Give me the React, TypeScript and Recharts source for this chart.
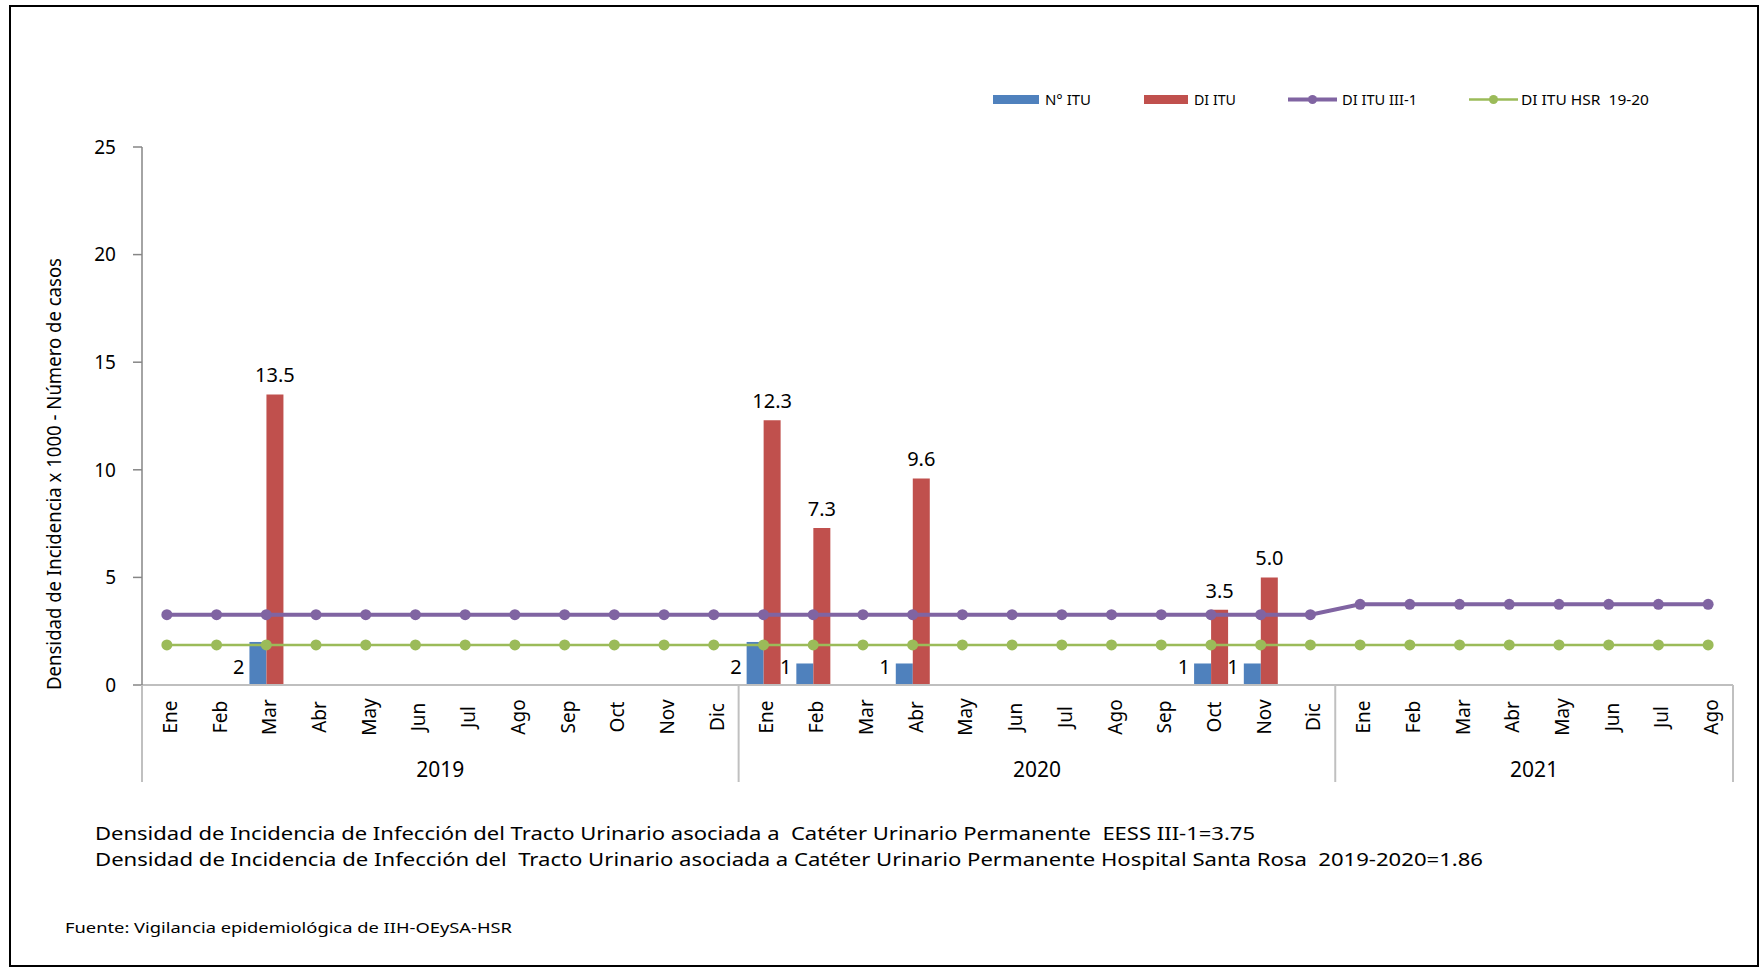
import React from 'react';
import { ComposedChart, Bar, Line, XAxis, YAxis, LabelList } from 'recharts';

const months = ['Ene', 'Feb', 'Mar', 'Abr', 'May', 'Jun', 'Jul', 'Ago', 'Sep', 'Oct', 'Nov', 'Dic'];
const years = ['2019', '2020', '2021'];
const monthsPerYear = [12, 12, 8];

// N° ITU (casos)
const nItu = [
  null, null, 2, null, null, null, null, null, null, null, null, null,
  2, 1, null, 1, null, null, null, null, null, 1, 1, null,
  null, null, null, null, null, null, null, null,
];
// DI ITU (densidad x 1000)
const diItu = [
  null, null, 13.5, null, null, null, null, null, null, null, null, null,
  12.3, 7.3, null, 9.6, null, null, null, null, null, 3.5, 5.0, null,
  null, null, null, null, null, null, null, null,
];
// DI ITU III-1
const diItuIII = [
  3.27, 3.27, 3.27, 3.27, 3.27, 3.27, 3.27, 3.27, 3.27, 3.27, 3.27, 3.27,
  3.27, 3.27, 3.27, 3.27, 3.27, 3.27, 3.27, 3.27, 3.27, 3.27, 3.27, 3.27,
  3.75, 3.75, 3.75, 3.75, 3.75, 3.75, 3.75, 3.75,
];
// DI ITU HSR 19-20
const diItuHsr = [
  1.86, 1.86, 1.86, 1.86, 1.86, 1.86, 1.86, 1.86, 1.86, 1.86, 1.86, 1.86,
  1.86, 1.86, 1.86, 1.86, 1.86, 1.86, 1.86, 1.86, 1.86, 1.86, 1.86, 1.86,
  1.86, 1.86, 1.86, 1.86, 1.86, 1.86, 1.86, 1.86,
];
const yTicks = [0, 5, 10, 15, 20, 25];

const seriesNames = ['N° ITU', 'DI ITU', 'DI ITU III-1', 'DI ITU HSR  19-20'];
const colors = { blue: '#4F81BD', red: '#C0504D', purple: '#8064A2', green: '#9BBB59' };

const yTitle = 'Densidad de Incidencia x 1000 - Número de casos';
const notes = [
  'Densidad de Incidencia de Infección del Tracto Urinario asociada a  Catéter Urinario Permanente  EESS III-1=3.75',
  'Densidad de Incidencia de Infección del  Tracto Urinario asociada a Catéter Urinario Permanente Hospital Santa Rosa  2019-2020=1.86',
];
const source = 'Fuente: Vigilancia epidemiológica de IIH-OEySA-HSR';

const FONT = '"Noto Sans", "Open Sans", sans-serif';

// layout
const PLOT_LEFT = 142;
const PLOT_RIGHT = 1733;
const PLOT_TOP = 147;
const PLOT_BOTTOM = 685;
const AXIS_BOTTOM = 782;
const BAND = (PLOT_RIGHT - PLOT_LEFT) / 32;

const rows: any[] = [];
years.forEach((year, g) => {
  for (let m = 0; m < monthsPerYear[g]; m++) {
    const i = rows.length;
    rows.push({
      key: `${months[m]}-${year}`,
      month: months[m],
      year,
      group: g,
      m,
      nItu: nItu[i],
      diItu: diItu[i],
      diItuIII: diItuIII[i],
      diItuHsr: diItuHsr[i],
    });
  }
});

const MonthTick = (props: any) => {
  const { x, payload } = props;
  const i = payload?.index ?? props.index;
  const row = rows[i];
  if (!row) return null;
  const len = monthsPerYear[row.group];
  const isFirst = row.m === 0;
  const isMid = row.m === len / 2 - 1;
  return (
    <g>
      <text
        transform={`translate(${x + 10}, 717) rotate(-90)`}
        textAnchor="middle"
        fontSize={19}
        fontFamily={FONT}
        fill="#000"
      >
        {row.month}
      </text>
      {isFirst && (
        <line x1={x - BAND / 2} x2={x - BAND / 2} y1={PLOT_BOTTOM} y2={AXIS_BOTTOM} stroke="#c0c0c0" strokeWidth={2} />
      )}
      {i === rows.length - 1 && (
        <line x1={x + BAND / 2} x2={x + BAND / 2} y1={PLOT_BOTTOM} y2={AXIS_BOTTOM} stroke="#c0c0c0" strokeWidth={2} />
      )}
      {isMid && (
        <text x={x + BAND / 2} y={777} textAnchor="middle" fontSize={21} fontFamily={FONT} fill="#000">
          {row.year}
        </text>
      )}
    </g>
  );
};

const CountLabel = (props: any) => {
  const { x, y, width, height, value } = props;
  if (value == null || !width) return null;
  return (
    <text x={x - 5} y={y + height - 11} textAnchor="end" fontSize={20} fontFamily={FONT} fill="#000">
      {value}
    </text>
  );
};

const RateLabel = (props: any) => {
  const { x, y, width, value } = props;
  if (value == null || !width) return null;
  return (
    <text x={x + width / 2} y={y - 12} textAnchor="middle" fontSize={20} fontFamily={FONT} fill="#000">
      {Number(value).toFixed(1)}
    </text>
  );
};

const YTitle = () => (
  <text
    transform="translate(61, 474) rotate(-90)"
    textAnchor="middle"
    fontSize={19}
    fontFamily={FONT}
    fill="#000"
    textLength={432}
    lengthAdjust="spacingAndGlyphs"
  >
    {yTitle}
  </text>
);

const Legend = () => (
  <g fontFamily={FONT} fontSize={14} fill="#000">
    <rect x={993} y={95} width={46} height={9} fill={colors.blue} />
    <text x={1045} y={104.5} textLength={46} lengthAdjust="spacingAndGlyphs">{seriesNames[0]}</text>
    <rect x={1144} y={95} width={44} height={9} fill={colors.red} />
    <text x={1194} y={104.5} textLength={42} lengthAdjust="spacingAndGlyphs">{seriesNames[1]}</text>
    <line x1={1288} x2={1337} y1={99.5} y2={99.5} stroke={colors.purple} strokeWidth={4} />
    <circle cx={1312.5} cy={99.5} r={4.5} fill={colors.purple} />
    <text x={1342} y={104.5} textLength={75} lengthAdjust="spacingAndGlyphs">{seriesNames[2]}</text>
    <line x1={1469} x2={1518} y1={99.5} y2={99.5} stroke={colors.green} strokeWidth={2.5} />
    <circle cx={1493.5} cy={99.5} r={4.5} fill={colors.green} />
    <text x={1521} y={104.5} textLength={128} lengthAdjust="spacingAndGlyphs" style={{ whiteSpace: 'pre' }}>{seriesNames[3]}</text>
  </g>
);

export default function App() {
  return (
    <div style={{ position: 'absolute', left: 0, top: 0, width: 1761, height: 975, background: '#fff', fontFamily: FONT }}>
      <div style={{
        position: 'absolute',
        left: 9,
        top: 5,
        width: 1750,
        height: 962,
        border: '2px solid #000',
        boxSizing: 'border-box',
      }} />
      <div style={{ position: 'absolute', left: 0, top: 0 }}>
        <ComposedChart
          width={1761}
          height={975}
          data={rows}
          margin={{ top: PLOT_TOP, right: 1761 - PLOT_RIGHT, bottom: 975 - PLOT_BOTTOM - 100, left: PLOT_LEFT - 60 }}
          barGap={0}
          barSize={17}
        >
          <XAxis
            dataKey="key"
            height={100}
            interval={0}
            tick={(p: any) => <MonthTick {...p} />}
            tickLine={false}
            axisLine={{ stroke: '#bfbfbf', strokeWidth: 2 }}
          />
          <YAxis
            width={60}
            domain={[0, 25]}
            ticks={yTicks}
            tickSize={9}
            tickMargin={17}
            tick={{ fontSize: 19, fill: '#000', fontFamily: FONT }}
            axisLine={{ stroke: '#868686', strokeWidth: 1.5 }}
            tickLine={{ stroke: '#868686', strokeWidth: 1.5 }}
            label={{ content: () => <YTitle /> }}
          />
          <Bar dataKey="nItu" fill={colors.blue} isAnimationActive={false}>
            <LabelList dataKey="nItu" content={CountLabel} />
          </Bar>
          <Bar dataKey="diItu" fill={colors.red} isAnimationActive={false}>
            <LabelList dataKey="diItu" content={RateLabel} />
          </Bar>
          <Line
            dataKey="diItuIII"
            stroke={colors.purple}
            strokeWidth={4}
            dot={{ r: 5.5, fill: colors.purple, stroke: colors.purple, strokeWidth: 0 }}
            activeDot={false}
            isAnimationActive={false}
          />
          <Line
            dataKey="diItuHsr"
            stroke={colors.green}
            strokeWidth={2.5}
            dot={{ r: 5.5, fill: colors.green, stroke: colors.green, strokeWidth: 0 }}
            activeDot={false}
            isAnimationActive={false}
          />
        </ComposedChart>
      </div>
      <svg width={1761} height={975} style={{ position: 'absolute', left: 0, top: 0, pointerEvents: 'none' }}>
        <Legend />
        <text x={95} y={840} fontSize={18} fontFamily={FONT} fill="#000" textLength={1160} lengthAdjust="spacingAndGlyphs" style={{ whiteSpace: 'pre' }}>
          {notes[0]}
        </text>
        <text x={95} y={866} fontSize={18} fontFamily={FONT} fill="#000" textLength={1388} lengthAdjust="spacingAndGlyphs" style={{ whiteSpace: 'pre' }}>
          {notes[1]}
        </text>
        <text x={65} y={933} fontSize={14} fontFamily={FONT} fill="#000" textLength={447} lengthAdjust="spacingAndGlyphs">
          {source}
        </text>
      </svg>
    </div>
  );
}
